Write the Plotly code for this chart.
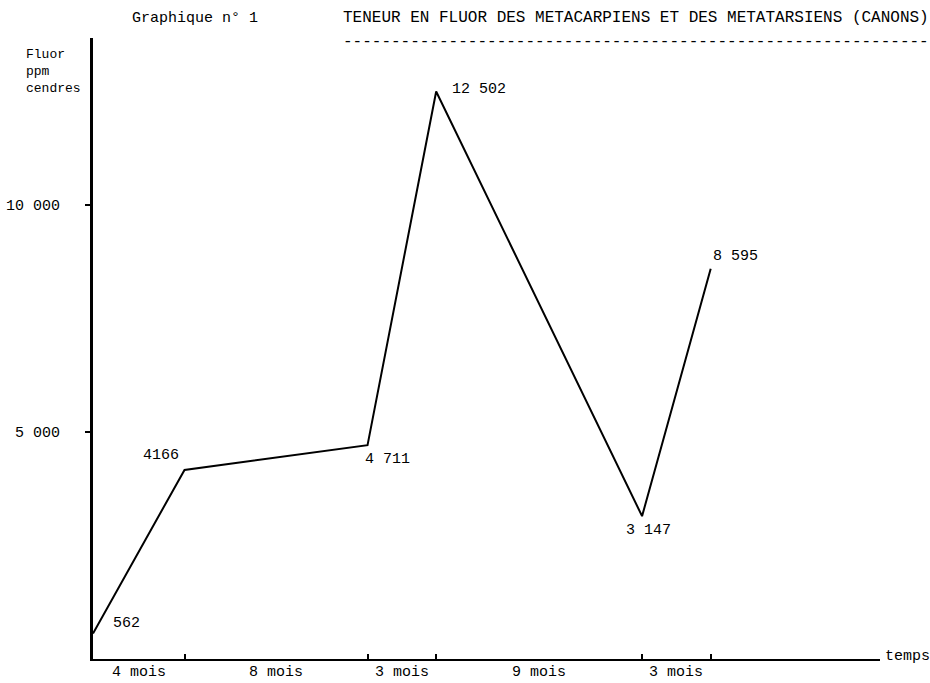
import plotly.graph_objects as go

# Data (cumulative months, fluor ppm cendres)
months = [0, 4, 12, 15, 24, 27]
fluor = [562, 4166, 4711, 12502, 3147, 8595]
point_labels = ["562", "4166", "4 711", "12 502", "3 147", "8 595"]
interval_labels = ["4 mois", "8 mois", "3 mois", "9 mois", "3 mois"]
y_tickvals = [5000, 10000]
y_ticktext = ["5 000", "10 000"]

FONT = "Liberation Mono, DejaVu Sans Mono, monospace"
W, H = 930, 683
L, R, T, B = 93, 50, 38, 24
PW, PH = W - L - R, H - T - B


def px_x(fx):
    return (fx - L) / PW


def px_y(fy):
    return 1 - (fy - T) / PH


def f(size):
    return dict(family=FONT, size=size, color="black")


fig = go.Figure()
fig.add_trace(go.Scatter(x=months, y=fluor, mode="lines",
                         line=dict(color="black", width=2), hoverinfo="x+y"))

# Data labels: (xshift, yshift, xanchor)
lab_pos = [(18, 10, "left"), (-4, 14, "right"), (20, -14, "center"),
           (14, 2, "left"), (6, -14, "center"), (0, 12, "left")]
ann = []
for x, y, t, (dx, dy, xa) in zip(months, fluor, point_labels, lab_pos):
    ann.append(dict(x=x, y=y, text=t, showarrow=False, xanchor=xa, yanchor="middle",
                    xshift=dx, yshift=dy, font=f(15)))

# Interval labels under the x-axis, centered between ticks
for i, t in enumerate(interval_labels):
    xm = (months[i] + months[i + 1]) / 2
    ann.append(dict(x=xm, y=0, yref="y", text=t, showarrow=False, xanchor="center",
                    yanchor="top", yshift=-3, font=f(15)))

ann += [
    dict(x=px_x(130), y=px_y(18), xref="paper", yref="paper", xanchor="left",
         yanchor="middle", text="Graphique n° 1", showarrow=False, font=f(15)),
    dict(x=px_x(341), y=px_y(18), xref="paper", yref="paper", xanchor="left",
         yanchor="middle", text="TENEUR EN FLUOR DES METACARPIENS ET DES METATARSIENS (CANONS)",
         showarrow=False, font=f(16)),
    dict(x=px_x(341), y=px_y(42), xref="paper", yref="paper", xanchor="left",
         yanchor="middle", text="-" * 61, showarrow=False, font=f(16)),
    dict(x=px_x(883), y=px_y(656), xref="paper", yref="paper", xanchor="left",
         yanchor="middle", text="temps", showarrow=False, font=f(15)),
    dict(x=px_x(24), y=px_y(45), xref="paper", yref="paper", xanchor="left",
         yanchor="top", align="left", text="Fluor<br>ppm<br>cendres",
         showarrow=False, font=f(13)),
]

fig.update_layout(
    width=W, height=H,
    margin=dict(l=L, r=R, t=T, b=B, autoexpand=False),
    paper_bgcolor="white", plot_bgcolor="white",
    showlegend=False,
    font=f(15),
    xaxis=dict(range=[0, 34.4], showgrid=False, zeroline=False, showline=True,
               linecolor="black", linewidth=2, tickvals=months[1:], ticks="inside",
               ticklen=5, tickwidth=2, tickcolor="black", showticklabels=False,
               automargin=False),
    yaxis=dict(range=[0, 13680], showgrid=False, zeroline=False, showline=True,
               linecolor="black", linewidth=3, tickvals=y_tickvals, ticktext=y_ticktext,
               ticks="outside", ticklen=5, tickwidth=2, tickcolor="black",
               ticklabelstandoff=22, automargin=False, tickfont=f(15)),
    annotations=ann,
)

fig.write_html("out.html", config={"displayModeBar": False},
               post_script="document.body.style.margin='0';document.body.style.overflow='hidden';")
